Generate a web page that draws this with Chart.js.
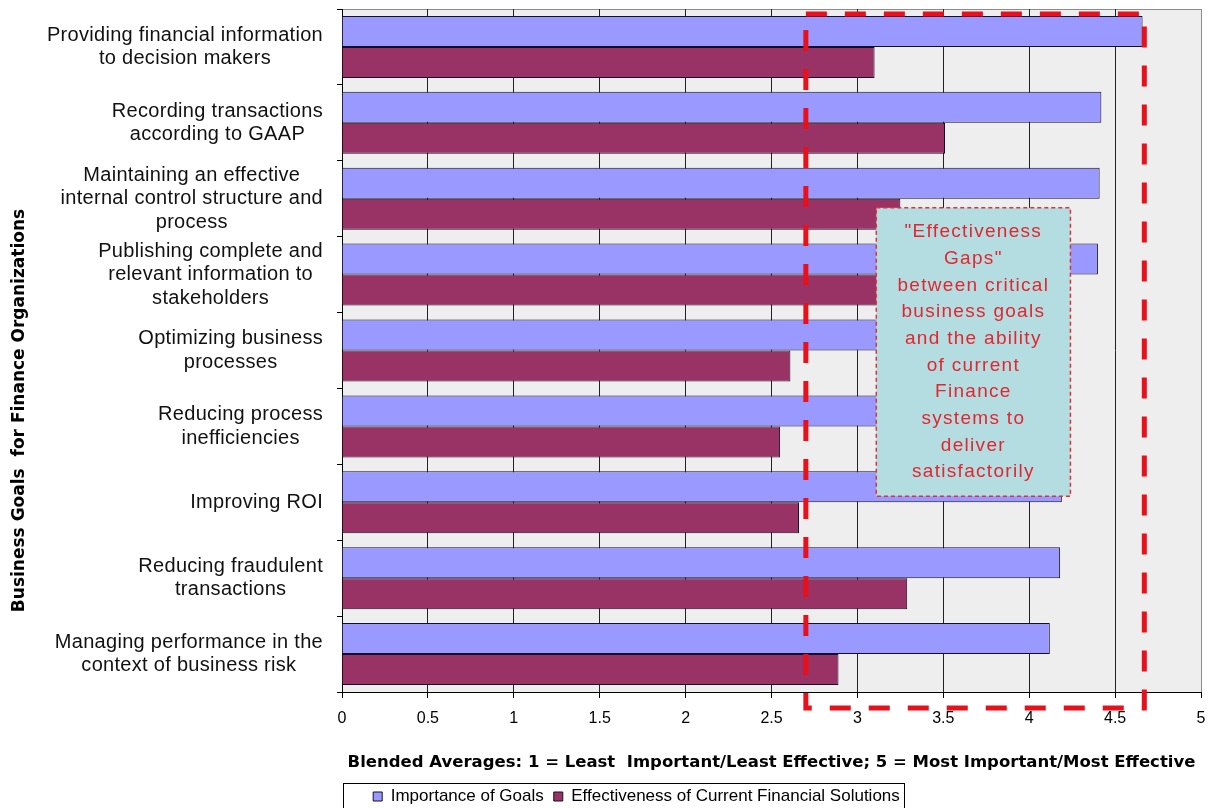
<!DOCTYPE html>
<html>
<head>
<meta charset="utf-8">
<title>Business Goals for Finance Organizations</title>
<script src="https://cdn.jsdelivr.net/npm/chart.js@4.4.1/dist/chart.umd.min.js"></script>
<style>
  html, body { margin: 0; padding: 0; background: #fff; }
  #wrap { width: 1229px; height: 808px; }
</style>
</head>
<body>
<div id="wrap"><canvas id="goalsChart" width="1229" height="808"></canvas></div>
<script>
// data
const goalLabels = [
    ["Providing financial information", "to decision makers"],
    ["Recording transactions", "according to GAAP"],
    ["Maintaining an effective", "internal control structure and", "process"],
    ["Publishing complete and", "relevant information to", "stakeholders"],
    ["Optimizing business", "processes"],
    ["Reducing process", "inefficiencies"],
    ["Improving ROI"],
    ["Reducing fraudulent", "transactions"],
    ["Managing performance in the", "context of business risk"]
];
const importanceValues = [4.66, 4.42, 4.41, 4.40, 4.22, 4.21, 4.19, 4.18, 4.12];
const effectivenessValues = [3.10, 3.51, 3.25, 3.25, 2.61, 2.55, 2.66, 3.29, 2.89];
const seriesNames = ["Importance of Goals", "Effectiveness of Current Financial Solutions"];
const xTickLabels = ["0", "0.5", "1", "1.5", "2", "2.5", "3", "3.5", "4", "4.5", "5"];
const xTitle = "Blended Averages: 1 = Least  Important/Least Effective; 5 = Most Important/Most Effective";
const yTitle = "Business Goals  for Finance Organizations";

// the "gap" highlight (value range) and the callout
const gapRange = [2.7, 4.67];
const calloutRange = [3.11, 4.24];
const calloutRows = [2.12, 5.92];
const calloutText = ["\"Effectiveness", "Gaps\"", "between critical", "business goals", "and the ability",
    "of current", "Finance", "systems to", "deliver", "satisfactorily"];

const FONT = "'Liberation Sans', Arial, sans-serif";
const TITLE_FONT = "'DejaVu Sans', Verdana, sans-serif";
Chart.defaults.font.family = FONT;
Chart.defaults.color = "#000";

const decor = {
    id: "decor",
    beforeDraw(chart) {
        const { ctx, chartArea: a } = chart;
        ctx.save();
        ctx.fillStyle = "#eeeeee";
        ctx.fillRect(a.left, a.top, a.right - a.left, a.bottom - a.top);
        ctx.strokeStyle = "#8c8c8c";
        ctx.lineWidth = 1;
        ctx.beginPath();
        ctx.moveTo(a.left, a.top + 0.5);
        ctx.lineTo(a.right + 0.5, a.top + 0.5);
        ctx.lineTo(a.right + 0.5, a.bottom);
        ctx.stroke();
        ctx.restore();
    },
    afterDatasetsDraw(chart) {
        const { ctx, chartArea: a } = chart;
        const xs = chart.scales.x, ys = chart.scales.y;
        ctx.save();
        // callout box
        const bx1 = xs.getPixelForValue(calloutRange[0]), bx2 = xs.getPixelForValue(calloutRange[1]);
        const by1 = ys.getPixelForValue(calloutRows[0]), by2 = ys.getPixelForValue(calloutRows[1]);
        ctx.fillStyle = "#b4dde1";
        ctx.fillRect(bx1, by1, bx2 - bx1, by2 - by1);
        ctx.setLineDash([4, 3]);
        ctx.lineWidth = 1.5;
        ctx.strokeStyle = "#e0303a";
        ctx.strokeRect(bx1, by1, bx2 - bx1, by2 - by1);
        ctx.font = "19px " + FONT;
        ctx.letterSpacing = "1.3px";
        ctx.fillStyle = "#e3262e";
        ctx.textAlign = "center";
        ctx.textBaseline = "middle";
        const lh = 26.7;
        const cy = (by1 + by2) / 2;
        calloutText.forEach((t, i) => {
            ctx.fillText(t, (bx1 + bx2) / 2, cy + (i - (calloutText.length - 1) / 2) * lh);
        });
        // red dashed frame around the gap
        const gx1 = xs.getPixelForValue(gapRange[0]), gx2 = xs.getPixelForValue(gapRange[1]);
        ctx.letterSpacing = "0px";
        ctx.setLineDash([21, 18]);
        ctx.lineWidth = 5;
        ctx.strokeStyle = "#e8101a";
        ctx.strokeRect(gx1, a.top + 5, gx2 - gx1, a.bottom + 16 - (a.top + 5));
        ctx.restore();
    },
    afterDraw(chart) {
        const { ctx, chartArea: a } = chart;
        const ys = chart.scales.y;
        ctx.save();
        // category labels, each block centred on its own widest line
        ctx.font = "20px " + FONT;
        ctx.letterSpacing = "0.3px";
        ctx.fillStyle = "#111";
        ctx.textAlign = "center";
        ctx.textBaseline = "middle";
        const right = ys.right - 19;
        goalLabels.forEach((lines, i) => {
            const y = ys.getPixelForTick(i);
            const widest = Math.max(...lines.map(l => ctx.measureText(l).width));
            lines.forEach((l, j) => {
                ctx.fillText(l, right - widest / 2, y + (j - (lines.length - 1) / 2) * 23.5);
            });
        });
        // y title
        ctx.letterSpacing = "0px";
        ctx.font = "bold 17px " + TITLE_FONT;
        ctx.fillStyle = "#000";
        ctx.translate(20, (a.top + a.bottom) / 2 + 60);
        ctx.rotate(-Math.PI / 2);
        ctx.fillText(yTitle, 0, 0);
        ctx.restore();
        // legend frame
        const boxes = chart.legend.legendHitBoxes;
        if (boxes && boxes.length) {
            const last = boxes[boxes.length - 1];
            const cy = boxes[0].top + boxes[0].height / 2;
            ctx.save();
            ctx.strokeStyle = "#000";
            ctx.lineWidth = 1;
            ctx.strokeRect(Math.round(boxes[0].left - 30) + 0.5, Math.round(cy - 14) + 0.5,
                Math.round(last.left + last.width + 4 - boxes[0].left + 30), chart.height);
            ctx.restore();
        }
    }
};

new Chart(document.getElementById("goalsChart"), {
    type: "bar",
    data: {
        labels: goalLabels.map(l => l.join(" ")),
        datasets: [
            {
                label: seriesNames[0],
                data: importanceValues,
                backgroundColor: "#9999ff",
                borderColor: "#101028",
                borderWidth: 1,
                categoryPercentage: 0.817,
                barPercentage: 1.0
            },
            {
                label: seriesNames[1],
                data: effectivenessValues,
                backgroundColor: "#993366",
                borderColor: "#101028",
                borderWidth: 1,
                categoryPercentage: 0.817,
                barPercentage: 1.0
            }
        ]
    },
    options: {
        indexAxis: "y",
        responsive: false,
        animation: false,
        devicePixelRatio: 1,
        layout: { padding: { top: 9, right: 28, left: 72, bottom: 0 } },
        plugins: {
            tooltip: { enabled: false },
            legend: {
                position: "bottom",
                maxHeight: 30,
                labels: {
                    boxWidth: 9,
                    boxHeight: 9,
                    padding: 10,
                    color: "#000",
                    font: { size: 17 }
                }
            }
        },
        scales: {
            x: {
                min: 0,
                max: 5,
                afterFit(scale) { scale.height = 86; },
                ticks: {
                    stepSize: 0.5,
                    padding: 11,
                    font: { size: 16 },
                    color: "#000",
                    callback: (v, i) => xTickLabels[i]
                },
                grid: {
                    color: ctx => (ctx.tick && ctx.tick.value === 5 ? "#8c8c8c" : "#222"),
                    lineWidth: 1,
                    tickLength: 6,
                    tickColor: "#000"
                },
                border: { color: "#000", width: 1 },
                title: {
                    display: true,
                    text: xTitle,
                    font: { family: TITLE_FONT, size: 16.5, weight: "bold" },
                    color: "#000",
                    padding: { top: 4, bottom: 5 }
                }
            },
            y: {
                afterFit(scale) { scale.width = 270; },
                ticks: { display: false },
                grid: {
                    drawOnChartArea: false,
                    tickLength: 5,
                    color: "#000"
                },
                border: { color: "#000", width: 1 }
            }
        }
    },
    plugins: [decor]
});
</script>
</body>
</html>
